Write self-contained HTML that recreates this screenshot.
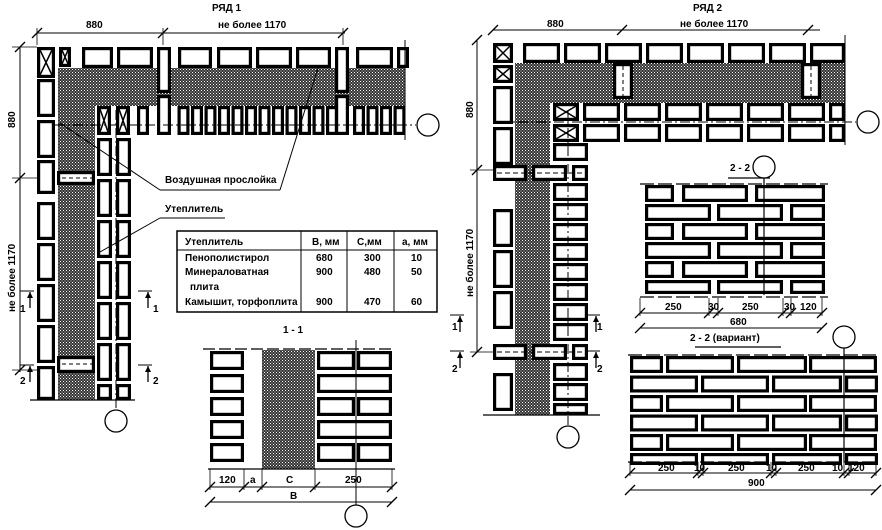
<!DOCTYPE html><html><head><meta charset="utf-8"><style>
body{margin:0;background:#fff}svg{display:block}
text{font-family:"Liberation Sans",sans-serif;font-size:10px;fill:#000}
</style></head><body>
<svg id="s" width="882" height="530" viewBox="0 0 882 530" xmlns="http://www.w3.org/2000/svg">
<defs><pattern id="ins" width="3" height="3" patternUnits="userSpaceOnUse"><rect width="3" height="3" fill="#333"/><rect x="0" y="0" width="1" height="1" fill="#fff"/><rect x="1.5" y="1.5" width="1" height="1" fill="#ddd"/></pattern></defs>
<g id="g"></g>
<g font-weight="bold">
<text x="212" y="11">РЯД  1</text><text x="693" y="11">РЯД  2</text>
<text x="86" y="28">880</text><text x="218" y="28">не более 1170</text>
<text x="547" y="27">880</text><text x="680" y="27">не более 1170</text>
<text transform="translate(15,128) rotate(-90)">880</text>
<text transform="translate(15,312) rotate(-90)">не более 1170</text>
<text transform="translate(473,118) rotate(-90)">880</text>
<text transform="translate(473,297) rotate(-90)">не более 1170</text>
<text x="165" y="183">Воздушная  прослойка</text>
<text x="165" y="212">Утеплитель</text>
<text x="185" y="245" font-size="9.5">Утеплитель</text><text x="312" y="245" font-size="9.5">В, мм</text><text x="357" y="245" font-size="9.5">С,мм</text><text x="402" y="245" font-size="9.5">а, мм</text>
<text x="185" y="261" font-size="9.5">Пенополистирол</text><text x="316" y="261">680</text><text x="364" y="261">300</text><text x="411" y="261">10</text>
<text x="185" y="275" font-size="9.5">Минераловатная</text><text x="316" y="275">900</text><text x="364" y="275">480</text><text x="411" y="275">50</text>
<text x="190" y="290" font-size="9.5">плита</text>
<text x="185" y="305" font-size="9.5">Камышит, торфоплита</text><text x="316" y="305">900</text><text x="364" y="305">470</text><text x="411" y="305">60</text>
<text x="283" y="333">1  -  1</text>
<text x="219" y="483">120</text><text x="250" y="483">a</text><text x="286" y="483">C</text><text x="345" y="483">250</text><text x="290" y="499">B</text>
<text x="730" y="171">2  -  2</text>
<text x="690" y="341">2  -  2  (вариант)</text>
<text x="665" y="310">250</text><text x="708" y="310">30</text><text x="742" y="310">250</text><text x="784" y="310">30</text><text x="800" y="310">120</text><text x="730" y="325">680</text>
<text x="658" y="471">250</text><text x="694" y="471">10</text><text x="728" y="471">250</text><text x="766" y="471">10</text><text x="798" y="471">250</text><text x="832" y="471">10</text><text x="848" y="471">120</text><text x="748" y="486">900</text>
<text x="20" y="312">1</text><text x="20" y="384">2</text><text x="153" y="312">1</text><text x="153" y="384">2</text>
<text x="452" y="330">1</text><text x="452" y="372">2</text><text x="597" y="330">1</text><text x="597" y="372">2</text>
</g>
</svg>
<script>
const g=document.getElementById('g');const NS='http://www.w3.org/2000/svg';
function el(t,a){const e=document.createElementNS(NS,t);for(const k in a)e.setAttribute(k,a[k]);g.appendChild(e);return e}
function B(x,y,w,h,X){el('rect',{x:x+1.6,y:y+1.6,width:w-3.2,height:h-3.2,fill:'#fff',stroke:'#000','stroke-width':3.2});if(X){el('path',{d:`M${x+3} ${y+3}L${x+w-3} ${y+h-3}M${x+w-3} ${y+3}L${x+3} ${y+h-3}`,stroke:'#000','stroke-width':1.5})}}
function I(x,y,w,h){el('rect',{x,y,width:w,height:h,fill:'url(#ins)'})}
function L(x1,y1,x2,y2,w,d){const a={x1,y1,x2,y2,stroke:'#000','stroke-width':w||1};if(d)a['stroke-dasharray']=d;el('line',a)}
function T(x,y){L(x-5,y+5,x+5,y-5,1.3)}
function C(x,y){el('circle',{cx:x,cy:y,r:11,fill:'#fff',stroke:'#000','stroke-width':1.3})}
function arrow(x,y,up){L(x,y,x,y+16,1.3);el('path',{d:`M${x-3} ${y+6}L${x} ${y}L${x+3} ${y+6}Z`});L(x-10,y-1,x+4,y-1,1)}
// ===== LEFT FIGURE
I(58,68,347,38);I(58,68,37,332);
B(37,47,18,31,1);B(59,47,12,20,1);
[[82,31],[117,36],[178,34],[217,35],[256,36],[296,35],[356,37],[397,12]].forEach(a=>B(a[0],47,a[1],21));
B(157,47,14,46);B(157,95,14,40);B(335,47,14,46);B(335,95,14,40);
B(97,106,14,29,1);B(116,106,14,29,1);
for(let x=137;x<405;x+=13.5){if((x>150&&x<172)||(x>328&&x<350))continue;B(x,106,12,29)}
for(let y=79;y<398;y+=41){if(y>150&&y<190)continue;B(37,y,18,Math.min(38,400-y))}
B(37,160,18,34);B(57,171,38,14);L(62,178,92,178,1,'4 3');B(57,356,38,17);L(62,364,92,364,1,'4 3');
for(let y=138;y<398;y+=41){B(97,y,15,Math.min(38,400-y));B(116,y,15,Math.min(38,400-y))}
L(30,400,135,400,1.3);L(405,40,405,140,1);
L(55,125,416,125,1,'10 3 2 3');L(116,110,116,410,1,'10 3 2 3');C(428,125);C(116,421);
L(37,33,345,33);T(37,33);T(163,33);T(343,33);L(37,28,37,45,0.8);L(163,28,163,45,0.8);L(343,28,343,45,0.8);
L(20,47,20,372);T(20,47);T(20,178);T(20,370);L(12,47,37,47,0.8);L(12,178,37,178,0.8);L(12,370,37,370,0.8);
arrow(30,292);arrow(30,366);arrow(148,292);arrow(148,366);
L(60,123,160,190);L(160,190,280,190);L(280,190,318,68);L(160,218,225,218);L(160,218,100,252);
// table
el('rect',{x:177,y:231,width:260,height:81,fill:'none',stroke:'#000','stroke-width':1.5});
L(177,250,437,250);L(301,231,301,312);L(347,231,347,312);L(394,231,394,312);
// 1-1
I(262,349,53,120);
for(let y=351;y<465;y+=23){B(210,y,34,19);const f=((y-351)/23)%2==0;if(f){B(317,y,38,19);B(357,y,35,19)}else{B(317,y,75,19)}}
el('rect',{x:205,y:345,width:190,height:5,fill:'#fff'});L(203,349,392,349,1.3,'12 4');
L(208,469,395,469,1.2);L(210,487,392,487);L(210,502,392,502);[210,244,262,315,392].forEach(x=>{T(x,487);L(x,469,x,490,0.8)});T(210,502);T(392,502);
L(356,340,356,505);C(356,516);
// ===== RIGHT FIGURE
I(515,63,330,40);I(515,63,35,352);
B(493,43,20,20,1);
for(let x=523;x<845;x+=41)B(x,43,Math.min(37,845-x),20);
B(613,63,20,36);B(801,63,20,36);L(623,66,623,96,1,'4 3');L(811,66,811,96,1,'4 3');
B(553,103,26,18,1);B(553,124,26,18,1);
for(let x=583;x<845;x+=41){B(x,103,Math.min(37,845-x),18);B(x,124,Math.min(37,845-x),18)}
B(493,65,20,18,1);
for(let y=86;y<410;y+=41){if(y>150&&y<185)continue;if(y>330&&y<365)continue;B(493,y,20,Math.min(38,415-y))}
[[165],[344]].forEach(a=>{const y=a[0];B(493,y,34,16);B(532,y,35,16);B(572,y,16,16);L(497,y+8,585,y+8,1,'5 3')});
for(let y=143;y<413;y+=20){if((y>160&&y<182)||(y>340&&y<362))continue;B(553,y,35,Math.min(18,415-y))}
L(483,415,600,415,1.3);L(845,35,845,145,1);
L(500,122,856,122,1,'10 3 2 3');L(568,110,568,425,1,'10 3 2 3');C(868,122);C(568,437);
L(493,30,820,30);T(493,30);T(622,30);T(808,30);
L(477,40,477,352);T(477,40);T(477,170);T(477,352);L(470,170,493,170,0.8);L(470,352,493,352,0.8);
arrow(460,316);arrow(460,352);arrow(596,316);arrow(596,352);
// 2-2
L(728,178,770,178,1.3);L(640,184,828,184,1.3,'14 4');
for(let r=0;r<6;r++){const y=185+r*19;const h=r==5?14:17;const A=r%2==0;
 (A?[[645,29],[682,66],[755,70]]:[[645,66],[717,66],[790,35]]).forEach(a=>B(a[0],y,a[1],h))}
L(640,297,828,297,1.3,'14 4');C(764,167);L(764,178,764,295,1.2);
L(640,313,822,313);L(640,328,822,328);[640,709,718,783,791,822].forEach(x=>{T(x,313);L(x,298,x,316,0.8)});T(640,328);T(822,328);
// variant
L(695,347,781,347,1.3);L(628,355,878,355,1.3,'14 4');
for(let r=0;r<5;r++){const y=356+r*19.5;const A=r%2==0;
 (A?[[630,33],[666,68],[737,70],[809,68]]:[[630,68],[701,68],[772,70],[845,33]]).forEach(a=>B(a[0],y,a[1],17))}
[[630,68],[701,68],[772,70],[845,33]].forEach(a=>B(a[0],453,a[1],12));
L(628,462,878,462,1.3,'14 4');C(844,337);L(844,348,844,462,1.2);
L(630,473,876,473);L(630,490,876,490);[630,698,703,771,776,844,849,876].forEach(x=>{T(x,473);L(x,462,x,476,0.8)});T(630,490);T(876,490);
</script>
</body></html>
